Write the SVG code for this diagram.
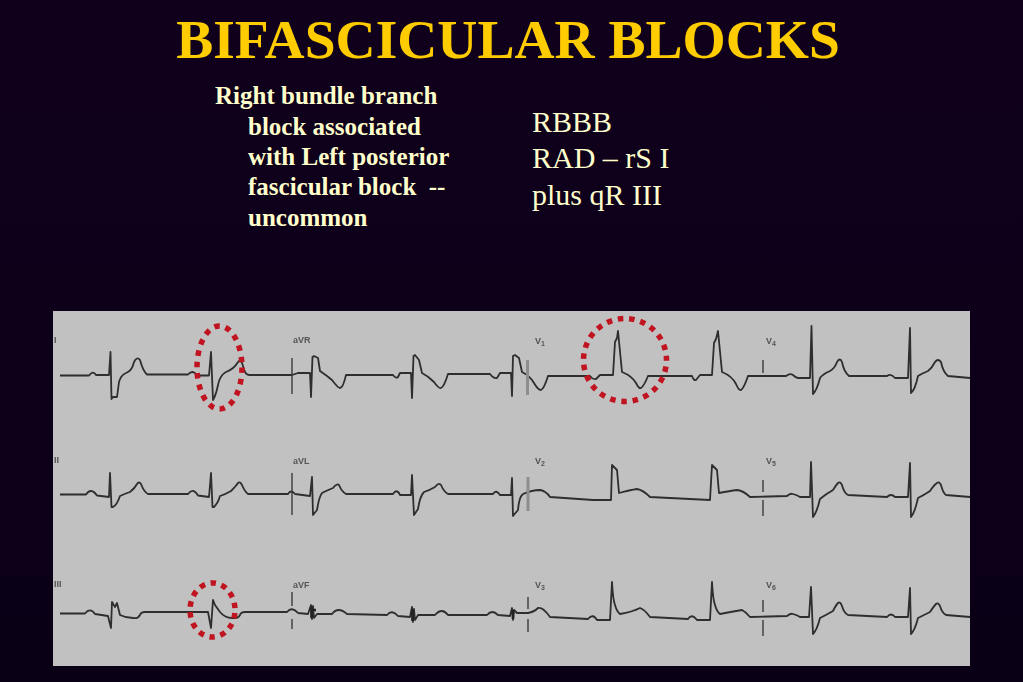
<svg xmlns="http://www.w3.org/2000/svg" width="1023" height="682" viewBox="0 0 1023 682">
<style>
.t{font-family:"Liberation Serif","Times New Roman",serif;fill:#ffffcc}
.b{font-weight:bold;font-size:25px}
.r{font-size:30px}
.l{font-family:"Liberation Sans",Arial,sans-serif;font-size:9px;font-weight:bold;fill:#555}
.ecg{fill:none;stroke:#2e2e2e;stroke-width:1.8;stroke-linejoin:round}
.tick{stroke:#333;stroke-width:1.3;fill:none}
.gtick{stroke:#8e8e8e;stroke-width:3;fill:none}
.blob{stroke:#222;stroke-width:2.6;fill:none}
.dot{fill:none;stroke:#c01420;stroke-width:5.500}
</style>
<defs>
<linearGradient id="bg" x1="0" y1="0" x2="0" y2="1"><stop offset="0" stop-color="#10001c"/><stop offset="1" stop-color="#0a0016"/></linearGradient>
<filter id="soft" x="-2%" y="-10%" width="104%" height="120%"><feGaussianBlur stdDeviation="0.45"/></filter>
</defs>
<rect width="1023" height="682" fill="url(#bg)"/>
<text class="t" x="508" y="58" text-anchor="middle" font-size="55.500" font-weight="bold" style="fill:#ffcc00">BIFASCICULAR BLOCKS</text>
<g id="text-left">
<text class="t b" x="215" y="104">Right bundle branch</text>
<text class="t b" x="248" y="135">block associated</text>
<text class="t b" x="248" y="165">with Left posterior</text>
<text class="t b" x="248" y="195" xml:space="preserve">fascicular block  --</text>
<text class="t b" x="248" y="226">uncommon</text>
</g>
<g id="text-right">
<text class="t r" x="532" y="132">RBBB</text>
<text class="t r" x="532" y="168">RAD – rS I</text>
<text class="t r" x="532" y="205">plus qR III</text>
</g>
<g id="ecg-panel">
<rect x="53" y="311" width="917" height="355" fill="#c1c1c1"/>
<g class="labels" filter="url(#soft)">
<text class="l" x="54" y="343" font-size="8">I</text>
<text class="l" x="54" y="463">II</text>
<text class="l" x="54" y="587">III</text>
<text class="l" x="293" y="343">aVR</text>
<text class="l" x="293" y="464">aVL</text>
<text class="l" x="293" y="588">aVF</text>
<text class="l" x="535" y="344">V<tspan font-size="7" dy="2">1</tspan></text>
<text class="l" x="535" y="464">V<tspan font-size="7" dy="2">2</tspan></text>
<text class="l" x="535" y="588">V<tspan font-size="7" dy="2">3</tspan></text>
<text class="l" x="766" y="344">V<tspan font-size="7" dy="2">4</tspan></text>
<text class="l" x="766" y="464">V<tspan font-size="7" dy="2">5</tspan></text>
<text class="l" x="766" y="588">V<tspan font-size="7" dy="2">6</tspan></text>
</g>
<g id="traces" filter="url(#soft)">
<path class="ecg" d="M60 375.500H89Q93 370 96 375H109L110.500 352L111.500 399L113 397H117L119 382Q121 375 126 373Q132 371 134 362Q137 356 140 360Q143 371 147 374.500H188Q193 369 197 375.500H209L211 352L213 400Q216 395 218 385Q220 375 226 372Q234 369 238 362Q241 358 243 366Q245 375 249 375H292L298 373H310L311 397L312.500 357L314 356L318 358L320 371Q326 375 332 380Q338 388 340 388Q343 388 346 375H393Q396 379 398 377L400 373H411L412 398L413.500 356L415 355L419 360L422 373Q428 376 434 382Q439 389 441 388Q444 387 448 374H490Q494 379 497 378L500 373H511L512 396L513 356L515 355L519 358L522 372Q530 376 534 383Q538 390 541 390Q544 389 548 376H590Q593 380 596 379L600 375H613L615 342L617 338L618 331L622 372Q632 376 636 383Q639 389 641 388Q644 386 648 376H692Q694 381 696 380L700 375H712L714 343L716 339L718 331L722 372Q732 376 736 384Q739 391 741 390Q744 388 748 376H786Q790 373 793 375Q796 378 798 378H810L811.500 326L813 394Q817 390 820 378Q823 374 830 371Q835 368 837 362Q840 357 842 362Q844 372 849 376H887Q891 373 895 378H908L910 328L911 393Q915 390 918 376Q921 374 928 371Q932 368 935 362Q938 358 941 362Q943 372 948 376L970 378"/>
<path class="ecg" d="M60 494.500H86Q91 487 97 495.500L109 497L110 473L111.500 507L113 507Q117 505 120 496Q124 494 130 492Q135 488 137 484Q139 481 141 484Q144 492 148 494H188Q193 487 198 495.500L209 497L211 473L212.500 507L214 507Q218 503 220 496Q226 494 231 491Q236 486 238 483Q240 481 242 485Q245 492 248 494H288Q291 489 295 494L310 496L312 477L313 515L317 510Q319 497 322 493Q328 490 333 488Q337 483 339 485Q342 492 346 494H393Q397 488 400 495H411L412 475L414 515L418 509Q420 496 424 492Q430 490 435 487Q439 482 441 485Q444 492 448 494H493Q496 489 500 495H511L512 478L513 516L518 510Q519 497 523 494Q532 490 540 490Q546 491 550 497L593 500H611L612 465L617 470L619 493Q630 490 637 489Q643 490 650 497L710 500L712 465L717 470L719 493Q730 491 737 490Q744 491 750 497L787 496Q790 493 793 494Q797 495 800 497H810L811 462L813 517Q817 512 820 499Q826 494 833 490Q836 485 838 483Q840 481 842 485Q844 493 848 495L887 497Q891 493 895 497H908L910 463L911 517Q915 512 918 498Q924 495 930 491Q934 485 937 483Q939 481 941 485Q943 493 946 495L970 497"/>
<path class="ecg" d="M60 613.500H85Q90 607 95 614L108 616L111 628L112 602L115 607L117 603L120 615Q126 618 133 618Q138 619 140 615Q141 612 145 612H208L211 628L213 600L215 605L220 612Q225 618 232 618Q238 619 240 615Q241 612 245 612H287Q292 606 298 613L308 614L311 605L312 619L313 606L314 618L317 614H332Q338 606 347 614L387 615Q392 609 398 616L410 617L412 607L413 622L414 609L415 620L418 615H435Q442 607 448 615H487Q492 609 498 615L510 616L512 608L513 620L514 610L517 613H528Q534 612 538 608Q543 607 550 617L588 619Q593 613 597 620H610L612 582Q613 600 615 605Q617 612 620 614Q632 612 640 608Q645 610 650 617L688 619Q692 613 697 620H710L712 582Q713 600 715 605Q717 612 720 614Q730 612 742 610Q746 612 750 617L787 616Q791 613 793 614Q797 615 800 617H809L811 587L813 634Q817 630 820 618Q826 615 833 611Q836 605 838 603Q840 601 842 606Q844 613 848 615L887 617Q891 612 895 617H908L910 588L911 634Q915 630 918 618Q924 615 930 612Q934 606 936 604Q938 602 940 606Q942 613 946 615L970 617"/>
<path class="blob" d="M311.500 607V618M412.500 609V621M513 610V619M312 610H316"/>
<g id="ticks">
<path class="tick" d="M292 358V394M292 473V515M292 592V606M292 619V629M763 360V373M763 480V492M763 500V516M763 600V612M763 620V636M528 597V609M528 619V632"/>
<path class="gtick" d="M527.500 360V395M528 477V511"/>
</g>
</g>
</g>
<g id="marks">
<ellipse id="mark-I" class="dot" cx="219.500" cy="367.500" rx="22.500" ry="41.500" stroke-dasharray="5.500 5.920"/>
<circle id="mark-V1" class="dot" cx="625" cy="360" r="41.500" stroke-dasharray="5.500 5.840" stroke-dashoffset="4.750"/>
<ellipse id="mark-III" class="dot" cx="212.500" cy="610" rx="22.500" ry="27" stroke-dasharray="5.500 5.630" stroke-dashoffset="-3"/>
</g>
</svg>
